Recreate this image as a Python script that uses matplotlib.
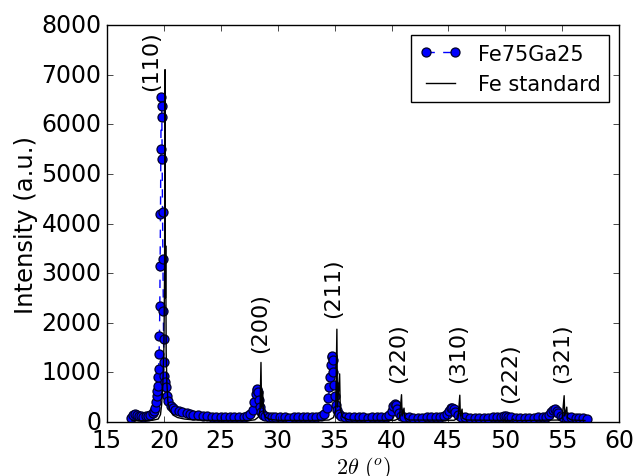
import numpy as np
import matplotlib
matplotlib.use('Agg')
from matplotlib import pyplot as plt

# Fe75Ga25 measured pattern (2theta in deg, counts)
tt_fega = [17.15, 17.3, 17.45, 17.6, 17.8, 18.0, 18.2, 18.4, 18.6, 18.8, 19.0, 19.1, 19.2,
           19.3, 19.35, 19.4, 19.45, 19.5, 19.55, 19.58, 19.61, 19.64, 19.67, 19.70, 19.73,
           19.76, 19.79, 19.82, 19.85, 19.88, 19.91, 19.94, 19.97, 20.0, 20.05, 20.1, 20.2,
           20.3, 20.4, 20.6, 20.8, 21.0, 21.3, 21.6, 22.0, 22.3, 22.6, 23.0, 23.4, 23.8, 24.2,
           24.6, 25.0, 25.4, 25.8, 26.2, 26.6, 27.0, 27.3, 27.6, 27.8, 27.95, 28.05, 28.15,
           28.22, 28.3, 28.38, 28.46, 28.55, 28.7, 28.9, 29.2, 29.5, 29.8, 30.2, 30.6, 31.0,
           31.4, 31.8, 32.2, 32.6, 33.0, 33.4, 33.8, 34.1, 34.3, 34.45, 34.55, 34.62, 34.68,
           34.73, 34.78, 34.83, 34.88, 34.95, 35.02, 35.1, 35.2, 35.35, 35.6, 35.9, 36.3,
           36.7, 37.1, 37.5, 37.9, 38.3, 38.7, 39.1, 39.5, 39.8, 40.0, 40.15, 40.28, 40.38,
           40.5, 40.65, 40.85, 41.1, 41.5, 41.9, 42.3, 42.7, 43.1, 43.5, 43.9, 44.3, 44.6,
           44.85, 45.05, 45.2, 45.32, 45.45, 45.6, 45.8, 46.1, 46.5, 46.9, 47.3, 47.7, 48.1,
           48.5, 48.9, 49.3, 49.6, 49.85, 50.05, 50.25, 50.5, 50.9, 51.3, 51.7, 52.1, 52.5,
           52.9, 53.3, 53.6, 53.85, 54.05, 54.2, 54.35, 54.5, 54.65, 54.85, 55.1, 55.4, 55.8,
           56.2, 56.5, 56.8, 57.15]
int_fega = [90, 150, 155, 140, 120, 115, 110, 115, 120, 140, 180, 220, 280,
            400, 520, 630, 720, 900, 1070, 1370, 1730, 2340, 3150, 4200, 5500,
            6550, 6360, 6150, 5300, 4230, 3280, 2240, 1670, 1210, 930, 800, 700,
            530, 420, 330, 280, 250, 220, 200, 180, 160, 150, 135, 125, 115, 110,
            105, 100, 100, 95, 95, 100, 105, 120, 160, 250, 400, 560, 650,
            665, 600, 450, 300, 200, 140, 115, 105, 100, 95, 95, 95, 90,
            95, 95, 95, 100, 100, 105, 120, 170, 280, 480, 700, 900, 1150,
            1300, 1330, 1250, 1000, 750, 520, 350, 240, 170, 130, 110, 100,
            95, 95, 95, 90, 95, 95, 100, 110, 150, 230, 320, 370, 350,
            270, 180, 120, 100, 95, 90, 90, 90, 95, 95, 95, 100, 115,
            160, 230, 280, 290, 260, 200, 140, 105, 95, 90, 90, 90, 90,
            90, 95, 95, 105, 120, 125, 110, 95, 90, 90, 90, 90, 90,
            95, 100, 110, 150, 210, 250, 260, 230, 180, 130, 110, 100, 95,
            90, 85, 75, 60]

# Fe reference pattern (Kalpha1/Kalpha2 doublets)
tt_fe = [17.2, 18.0, 19.0, 19.5, 19.7, 19.8, 19.9, 20.0, 20.06, 20.1, 20.13, 20.16, 20.2,
         20.26, 20.35, 20.5, 20.8, 21.2, 21.8, 22.5, 23.5, 25.0, 27.0, 27.5, 28.0, 28.3,
         28.45, 28.53, 28.58, 28.68, 28.75, 28.9, 29.3, 30.0, 33.0, 34.5, 34.9, 35.1, 35.2,
         35.25, 35.44, 35.5, 35.7, 36.2, 37.0, 40.3, 40.7, 40.88, 40.93, 41.1, 41.15, 41.5,
         45.5, 45.85, 46.0, 46.05, 46.2, 46.25, 46.6, 50.5, 50.7, 50.75, 51.0, 54.7, 55.0,
         55.17, 55.22, 55.4, 55.45, 55.8, 57.0]
int_fe = [25, 25, 35, 60, 150, 350, 700, 1500, 3000, 7100, 2500, 3550, 1400,
          800, 420, 250, 140, 90, 60, 45, 35, 30, 30, 30, 45, 100,
          250, 1200, 300, 620, 200, 100, 55, 35, 30, 40, 90, 250, 1870,
          300, 970, 250, 100, 45, 30, 35, 80, 550, 120, 280, 90, 40,
          35, 80, 540, 120, 260, 80, 40, 30, 60, 35, 30, 40, 90,
          530, 120, 300, 90, 40, 30]

# Miller indices and label anchors (x, bottom of text)
hkl = ['(110)', '(200)', '(211)', '(220)', '(310)', '(222)', '(321)']
hkl_x = [18.9, 28.45, 34.86, 40.6, 45.85, 50.4, 54.99]
hkl_y = [6700, 1410, 2110, 800, 800, 400, 800]

plt.style.use('classic')
plt.rcParams['figure.facecolor'] = 'white'
plt.rcParams['savefig.facecolor'] = 'white'
plt.rcParams['font.size'] = 16

fig = plt.figure(figsize=(6.35, 4.77), dpi=100)
ax = fig.add_axes([0.1685, 0.1132, 0.8065, 0.8323])

ax.plot(tt_fega, int_fega, 'bo--', markersize=6.5, mec='#00002a', mew=0.9,
        label='Fe75Ga25')
ax.plot(tt_fe, int_fe, 'k-', lw=1, label='Fe standard')

for lab, x, y in zip(hkl, hkl_x, hkl_y):
    ax.text(x, y, lab, rotation=90, ha='center', va='bottom', fontsize=16)

ax.set_xlim(15, 60)
ax.set_ylim(0, 8000)
ax.set_xticks(np.arange(15, 61, 5))
ax.set_yticks(np.arange(0, 8001, 1000))
ax.set_xlabel(r'$2\theta\ (^o)$', fontsize=16, labelpad=2)
ax.set_ylabel('Intensity (a.u.)', fontsize=17.5, labelpad=2)
ax.tick_params(labelsize=17)
ax.legend(loc='upper right', fontsize=15)

fig.savefig('out.png', dpi=100)
